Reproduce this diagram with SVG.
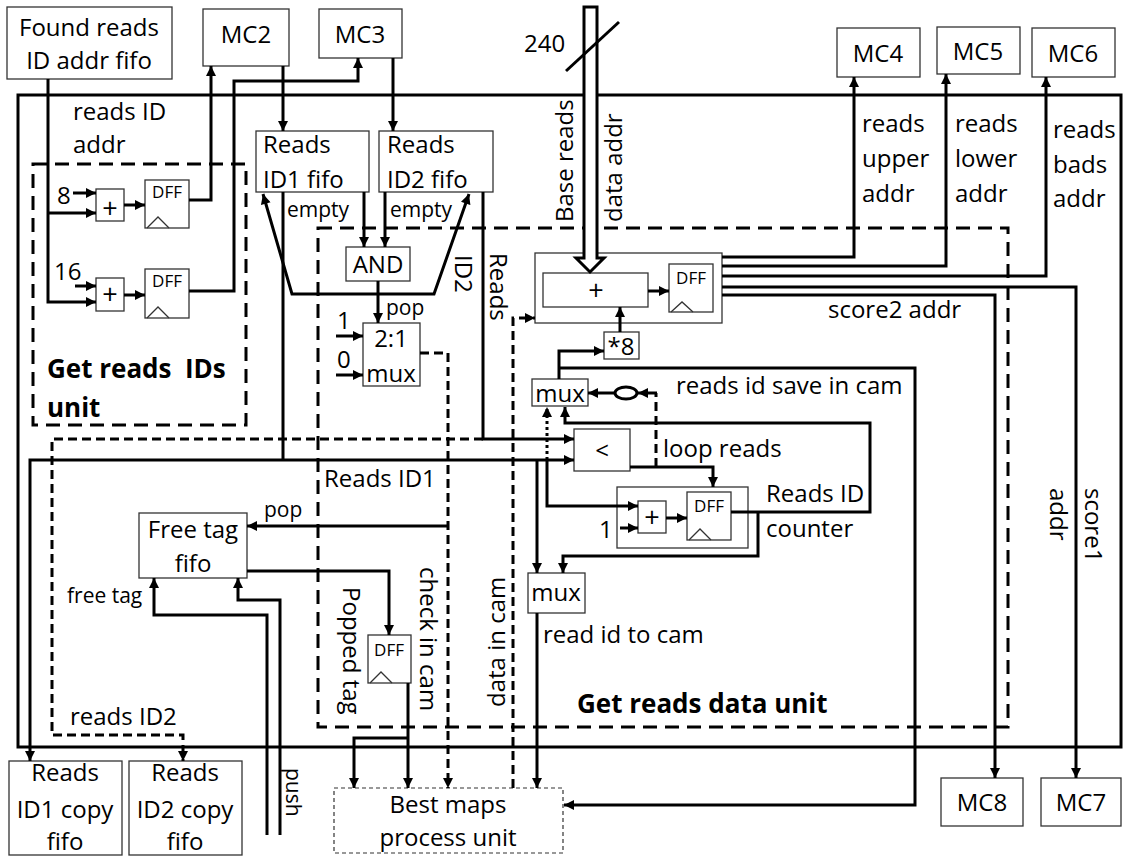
<svg xmlns="http://www.w3.org/2000/svg" width="1123" height="858" viewBox="0 0 1123 858">
<defs>
<marker id="ah" viewBox="0 0 10 10" refX="10" refY="5" markerWidth="11" markerHeight="10" markerUnits="userSpaceOnUse" orient="auto-start-reverse"><path d="M0,0 L10,5 L0,10 z" fill="#000"/></marker>
</defs>
<style>
text { font-family: "Open Sans", "Liberation Sans", sans-serif; font-size: 24px; fill: #000; }
.s { font-size: 21px; }
.d { font-size: 17px; }
.p { font-size: 27px; }
.b { font-weight: bold; font-size: 26px; }
.c { text-anchor: middle; }
.box { fill: #fff; stroke: #333; stroke-width: 1.3; }
.grp { fill: none; stroke: #333; stroke-width: 1.3; }
.tri { fill: none; stroke: #333; stroke-width: 1.3; }
.w { fill: none; stroke: #000; stroke-width: 3; }
.a { marker-end: url(#ah); }
.as { marker-start: url(#ah); }
.dash { stroke-dasharray: 9 5; }
.dot { stroke-dasharray: 3 3; }
.ubox { fill: none; stroke: #000; stroke-width: 3; stroke-dasharray: 14 8; }
.bm { fill: #fff; stroke: #333; stroke-width: 1.2; stroke-dasharray: 4 3; }
</style>

<g id="frame">
<rect x="18" y="95" width="1103" height="652" fill="none" stroke="#000" stroke-width="3"/>
</g>

<g id="units">
<rect class="ubox" x="33" y="164" width="213" height="261"/>
<text class="b" x="47" y="378" xml:space="preserve">Get reads  IDs</text>
<text class="b" x="47" y="417">unit</text>
<rect class="ubox" x="318" y="228" width="690" height="499"/>
<text class="b" x="577" y="713">Get reads data unit</text>
</g>

<g id="found-fifo"><rect class="box" x="7" y="7" width="165" height="72"/><text class="c" x="89" y="36">Found reads</text><text class="c" x="89" y="69">ID addr fifo</text></g>
<g id="mc2"><rect class="box" x="203" y="9" width="86" height="57"/><text class="c" x="246" y="43">MC2</text></g>
<g id="mc3"><rect class="box" x="319" y="9" width="83" height="49"/><text class="c" x="360" y="43">MC3</text></g>
<g id="mc4"><rect class="box" x="837" y="28" width="83" height="49"/><text class="c" x="878" y="62">MC4</text></g>
<g id="mc5"><rect class="box" x="937" y="27" width="83" height="47"/><text class="c" x="978" y="60">MC5</text></g>
<g id="mc6"><rect class="box" x="1032" y="28" width="83" height="49"/><text class="c" x="1073" y="62">MC6</text></g>
<g id="mc8"><rect class="box" x="941" y="778" width="82" height="48"/><text class="c" x="982" y="811">MC8</text></g>
<g id="mc7"><rect class="box" x="1041" y="778" width="80" height="48"/><text class="c" x="1081" y="811">MC7</text></g>

<g id="adder1"><rect class="box" x="96" y="189" width="28" height="32"/><text class="c p" x="110" y="218">+</text></g>
<g id="adder2"><rect class="box" x="96" y="278" width="28" height="33"/><text class="c p" x="110" y="304">+</text></g>
<g id="dff1"><rect class="box" x="145" y="180" width="44" height="48"/><text class="c d" x="167" y="198">DFF</text><path class="tri" d="M147,228 L158,217 L169,228"/></g>
<g id="dff2"><rect class="box" x="145" y="269" width="44" height="49"/><text class="c d" x="167" y="287">DFF</text><path class="tri" d="M147,318 L158,307 L169,318"/></g>

<g id="id1-fifo"><rect class="box" x="256" y="131" width="113" height="61"/><text x="263" y="153">Reads</text><text x="263" y="188">ID1 fifo</text></g>
<g id="id2-fifo"><rect class="box" x="379" y="131" width="114" height="61"/><text x="387" y="153">Reads</text><text x="387" y="188">ID2 fifo</text></g>
<g id="and"><rect class="box" x="346" y="247" width="64" height="34"/><text class="c" x="378" y="273">AND</text></g>
<g id="mux21"><rect class="box" x="363" y="323" width="57" height="63"/><text class="c" x="391" y="347">2:1</text><text class="c" x="391" y="382">mux</text></g>

<g id="adder-block">
<rect class="grp" x="535" y="253" width="187" height="70"/>
<rect class="box" x="543" y="273" width="105" height="34"/><text class="c p" x="596" y="300">+</text>
<rect class="box" x="669" y="264" width="44" height="48"/><text class="c d" x="691" y="284">DFF</text><path class="tri" d="M671,312 L682,302 L693,312"/>
</g>
<g id="times8"><rect class="box" x="604" y="332" width="35" height="27"/><text class="c" x="621" y="355">*8</text></g>
<g id="mux1"><rect class="box" x="532" y="379" width="56" height="27"/><text class="c" x="560" y="402">mux</text></g>
<g id="inv"><ellipse cx="626" cy="393" rx="11" ry="6" fill="#fff" stroke="#000" stroke-width="3"/></g>
<g id="lt"><rect class="box" x="574" y="429" width="56" height="42"/><text class="c" x="602" y="459">&lt;</text></g>
<g id="counter">
<rect class="grp" x="617" y="487" width="131" height="61"/>
<rect class="box" x="638" y="501" width="28" height="32"/><text class="c p" x="652" y="527">+</text>
<rect class="box" x="687" y="492" width="44" height="48"/><text class="c d" x="709" y="512">DFF</text><path class="tri" d="M689,540 L700,529 L711,540"/>
</g>
<g id="mux2"><rect class="box" x="528" y="573" width="57" height="40"/><text class="c" x="556" y="601">mux</text></g>
<g id="free-tag-fifo"><rect class="box" x="139" y="513" width="108" height="65"/><text class="c" x="193" y="538">Free tag</text><text class="c" x="193" y="572">fifo</text></g>
<g id="dff3"><rect class="box" x="368" y="635" width="43" height="48"/><text class="c d" x="389" y="656">DFF</text><path class="tri" d="M370,683 L381,672 L392,683"/></g>
<g id="id1-copy"><rect class="box" x="9" y="761" width="113" height="94"/><text class="c" x="65" y="781">Reads</text><text class="c" x="65" y="818">ID1 copy</text><text class="c" x="65" y="850">fifo</text></g>
<g id="id2-copy"><rect class="box" x="129" y="761" width="113" height="94"/><text class="c" x="185" y="781">Reads</text><text class="c" x="185" y="818">ID2 copy</text><text class="c" x="185" y="850">fifo</text></g>
<g id="best-maps"><rect class="bm" x="334" y="788" width="229" height="65"/><text class="c" x="448" y="813">Best maps</text><text class="c" x="448" y="846">process unit</text></g>

<g id="connectors">
<path class="w a" d="M48,79 V302 H96"/>
<path class="w a" d="M48,213 H96"/>
<path class="w a" d="M73,193 H96"/>
<path class="w a" d="M75,286 H96"/>
<path class="w a" d="M124,205 H145"/>
<path class="w a" d="M124,295 H145"/>
<path class="w a" d="M189,200 H211 V66"/>
<path class="w a" d="M189,291 H234 V81 H358 V58"/>
<path class="w a" d="M283,66 V131"/>
<path class="w a" d="M393,58 V131"/>
<path class="w a" d="M364,192 V247"/>
<path class="w a" d="M385,192 V247"/>
<path class="w a as" d="M263,194 L292,294 H434 L469,194"/>
<path class="w a" d="M378,281 V323"/>
<path class="w a" d="M336,336 H363"/>
<path class="w a" d="M336,375 H363"/>
<path class="w a dash" d="M420,353 H448 V788"/>
<path class="w a" d="M448,526 H247"/>
<path class="w" d="M283,192 V460"/>
<path class="w a as" d="M30,761 V460 H574"/>
<path class="w a" d="M483,192 V439 H574"/>
<path class="w a dash" d="M483,439 H52 V735 H183 V761"/>
<path class="w a" d="M537,460 V573"/>
<path class="w a dot" d="M547,460 V407"/>
<path class="w a" d="M547,460 V506 H638"/>
<path class="w a" d="M620,528 H638"/>
<path class="w a" d="M666,518 H687"/>
<path class="w a" d="M630,467 H713 V487"/>
<path class="w dash" d="M656,467 V393"/>
<path class="w a" d="M657,393 H638"/>
<path class="w a" d="M615,393 H588"/>
<path class="w a" d="M731,512 H870 V423 H565 V407"/>
<path class="w a" d="M758,512 V556 H563 V573"/>
<path class="w a" d="M559,379 V351 H604"/>
<path class="w a" d="M559,368 H915 V805 H564"/>
<path class="w a" d="M620,332 V307"/>
<path class="w a" d="M648,291 H669"/>
<path class="w a" d="M722,257 H854 V77"/>
<path class="w a" d="M722,266 H946 V74"/>
<path class="w a" d="M722,276 H1046 V77"/>
<path class="w a" d="M722,287 H1076 V778"/>
<path class="w a" d="M722,295 H995 V778"/>
<path class="w a dash" d="M513,788 V318 H535"/>
<path class="w a" d="M537,613 V788"/>
<path class="w a" d="M247,571 H389 V635"/>
<path class="w a" d="M408,683 V788"/>
<path class="w a" d="M408,738 H354 V788"/>
<path class="w a" d="M267,835 V615 H154 V578"/>
<path class="w a" d="M280,835 V600 H238 V578"/>
<polygon points="584,7 597,7 597,258 604,258 590,272 576,258 584,258" fill="#fff" stroke="#000" stroke-width="3" stroke-linejoin="miter"/>
<line x1="566" y1="71" x2="619" y2="22" stroke="#000" stroke-width="3"/>
</g>

<g id="labels">
<text x="524" y="52">240</text>
<text x="73" y="120">reads ID</text>
<text x="73" y="153">addr</text>
<text x="57" y="204">8</text>
<text x="54" y="280">16</text>
<text class="s" x="287" y="217">empty</text>
<text class="s" x="390" y="217">empty</text>
<text class="s" x="386" y="315">pop</text>
<text x="337" y="329">1</text>
<text x="337" y="368">0</text>
<text transform="rotate(-90 573 222)" x="573" y="222">Base reads</text>
<text transform="rotate(-90 622 222)" x="622" y="222">data addr</text>
<text transform="rotate(90 455 255)" x="455" y="255">ID2</text>
<text transform="rotate(90 490 253)" x="490" y="253">Reads</text>
<text x="862" y="132">reads</text><text x="862" y="167">upper</text><text x="862" y="202">addr</text>
<text x="955" y="132">reads</text><text x="955" y="167">lower</text><text x="955" y="202">addr</text>
<text x="1053" y="138">reads</text><text x="1053" y="173">bads</text><text x="1053" y="207">addr</text>
<text x="828" y="318">score2 addr</text>
<text x="676" y="394">reads id save in cam</text>
<text x="663" y="457">loop reads</text>
<text x="766" y="502">Reads ID</text>
<text x="766" y="537">counter</text>
<text x="599" y="538">1</text>
<text x="324" y="487">Reads ID1</text>
<text class="s" x="264" y="517">pop</text>
<text class="s" x="67" y="603">free tag</text>
<text x="543" y="643">read id to cam</text>
<text transform="rotate(90 343 587)" x="343" y="587">Popped tag</text>
<text transform="rotate(90 420 567)" x="420" y="567">check in cam</text>
<text transform="rotate(-90 505 707)" x="505" y="707">data in cam</text>
<text transform="rotate(90 1085 488)" x="1085" y="488">score1</text>
<text transform="rotate(90 1050 488)" x="1050" y="488">addr</text>
<text x="70" y="725">reads ID2</text>
<text class="s" transform="rotate(90 286 768)" x="286" y="768">push</text>
</g>
</svg>
